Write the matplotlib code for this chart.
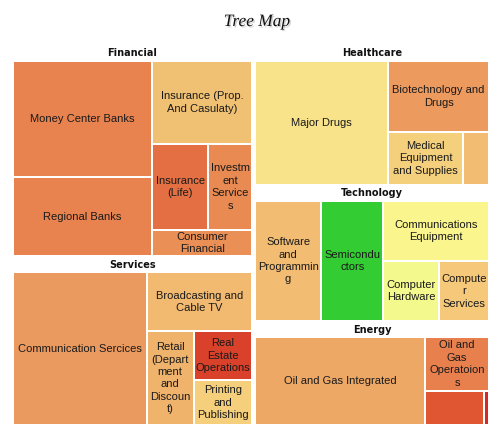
import matplotlib
matplotlib.use("Agg")
import matplotlib.pyplot as plt
from matplotlib.patches import Rectangle
import matplotlib.patheffects as pe

# datos del treemap
groups = ["Financial", "Services", "Healthcare", "Technology", "Energy"]

financial_labels = ["Money Center Banks", "Regional Banks", "Insurance (Prop.\nAnd Casulaty)",
                    "Insurance\n(Life)", "Investm\nent\nService\ns", "Consumer\nFinancial"]
financial_values = [17.7, 12.0, 9.0, 5.2, 4.15, 2.85]
financial_colors = ["#E8824F", "#E8824F", "#F0C172", "#E36F42", "#E98A52", "#EA8F56"]

services_labels = ["Communication Sercices", "Broadcasting and\nCable TV",
                   "Retail\n(Depart\nment\nand\nDiscoun\nt)", "Real\nEstate\nOperations",
                   "Printing\nand\nPublishing"]
services_values = [22.7, 6.9, 4.9, 3.2, 2.9]
services_colors = ["#EA9A5E", "#F2B970", "#F0B36C", "#D9412A", "#F6CF7C"]

healthcare_labels = ["Major Drugs", "Biotechnology and\nDrugs", "Medical\nEquipment\nand Supplies", ""]
healthcare_values = [18.6, 8.1, 4.5, 1.55]
healthcare_colors = ["#F8E38A", "#EC9A5E", "#F5D07C", "#F2BD72"]

technology_labels = ["Software\nand\nProgrammin\ng", "Semicondu\nctors", "Communications\nEquipment",
                     "Computer\nHardware", "Compute\nr\nServices"]
technology_values = [9.0, 8.6, 7.3, 3.8, 3.4]
technology_colors = ["#F2BC72", "#33CC33", "#FAF58C", "#F4F98E", "#F5C87A"]

energy_labels = ["Oil and Gas Integrated", "Oil and\nGas\nOperatoion\ns", "", ""]
energy_values = [17.7, 4.05, 2.4, 0.2]
energy_colors = ["#EEA866", "#E8804E", "#E05632", "#D42A22"]

datos = [
    (financial_labels, financial_values, financial_colors),
    (services_labels, services_values, services_colors),
    (healthcare_labels, healthcare_values, healthcare_colors),
    (technology_labels, technology_values, technology_colors),
    (energy_labels, energy_values, energy_colors),
]


# algoritmo squarified
def squarify(values, x, y, w, h):
    total = float(sum(values))
    areas = [v * w * h / total for v in values]
    orden = sorted(range(len(values)), key=lambda i: -areas[i])
    rects = [None] * len(values)

    def peor(fila, lado):
        s = sum(areas[i] for i in fila)
        grosor = s / lado
        r = 0
        for i in fila:
            largo = areas[i] / grosor
            r = max(r, grosor / largo, largo / grosor)
        return r

    while orden:
        lado = min(w, h)
        fila = [orden[0]]
        k = 1
        while k < len(orden) and peor(fila + [orden[k]], lado) <= peor(fila, lado):
            fila.append(orden[k])
            k += 1
        orden = orden[k:]
        s = sum(areas[i] for i in fila)
        grosor = s / lado
        if w >= h:
            yy = y
            for i in fila:
                largo = areas[i] / grosor
                rects[i] = (x, yy, grosor, largo)
                yy += largo
            x += grosor
            w -= grosor
        else:
            xx = x
            for i in fila:
                largo = areas[i] / grosor
                rects[i] = (xx, y, largo, grosor)
                xx += largo
            y += grosor
            h -= grosor
    return rects


fig = plt.figure(figsize=(5, 4.34), dpi=100)
ax = fig.add_axes([0, 0, 1, 1])
ax.set_xlim(0, 500)
ax.set_ylim(434, 0)
ax.axis("off")

totales = [sum(d[1]) for d in datos]
grupos = squarify(totales, 11, 45, 479.5, 380)

cabecera = 16
for g, (gx, gy, gw, gh) in enumerate(grupos):
    labels, values, colors = datos[g]
    ax.text(gx + gw / 2, gy + 8.5, groups[g], ha="center", va="center",
            fontsize=7, fontweight="bold", family="DejaVu Sans", color="#111111")
    hojas = squarify(values, gx + 1.5, gy + cabecera, gw - 3, gh - cabecera)
    for (hx, hy, hw, hh), lab, col in zip(hojas, labels, colors):
        ax.add_patch(Rectangle((hx + 1, hy + 1), hw - 2, hh - 2, facecolor=col,
                               edgecolor="none"))
        if lab:
            ax.text(hx + hw / 2, hy + hh / 2, lab, ha="center", va="center",
                    multialignment="center", fontsize=8, family="Liberation Sans",
                    color="#1a1a1a", linespacing=1.3)

t = ax.text(257, 22, "Tree Map", ha="center", va="center", fontsize=12.5,
            family="Liberation Serif", style="italic", color="#111111")
t.set_path_effects([pe.SimplePatchShadow(offset=(1, -1), shadow_rgbFace="#888888", alpha=0.4),
                    pe.Normal()])

plt.savefig("out.png", dpi=100)
